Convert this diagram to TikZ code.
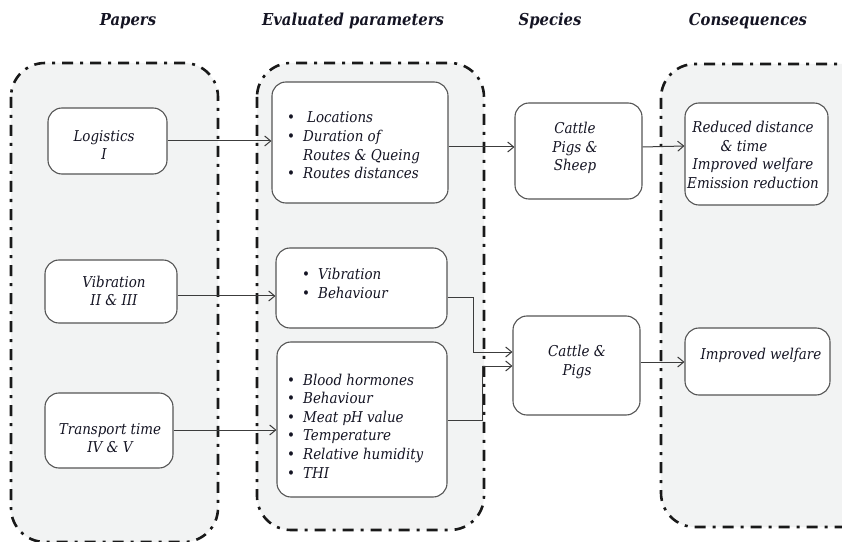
\documentclass[tikz,border=0pt]{standalone}
\usepackage{fontspec}
\setmainfont{DejaVuSerifCondensed}[Extension=.ttf, UprightFont=*, ItalicFont=*-Italic, BoldFont=*-Bold, BoldItalicFont=*-BoldItalic]
\usetikzlibrary{arrows.meta}
\definecolor{grpfill}{RGB}{242,243,243}
\definecolor{grpline}{RGB}{25,25,25}
\definecolor{boxline}{RGB}{85,85,85}
\definecolor{conline}{RGB}{60,60,60}
\definecolor{txtcol}{RGB}{20,20,35}
\tikzset{
  grp/.style={draw=grpline, line width=2.6bp, fill=grpfill, rounded corners=34bp,
              dash pattern=on 11bp off 7bp on 3bp off 7bp},
  box/.style={draw=boxline, line width=1.1bp, fill=white, rounded corners=14bp, inner sep=0pt},
  txt/.style={font=\itshape\fontsize{15}{18.7}\selectfont, text=txtcol, align=center, inner sep=0pt},
  hdr/.style={font=\bfseries\itshape\fontsize{16.5}{18}\selectfont, text=txtcol, inner sep=0pt},
  conn/.style={draw=conline, line width=1bp, -{Straight Barb[length=6bp,width=10bp]}},
}
\newcommand{\bul}{\textbullet}
\begin{document}
\begin{tikzpicture}[x=1bp,y=-1bp]
\useasboundingbox (0,0) rectangle (842,542);
\clip (0,0) rectangle (842,542);

% headers
\node[hdr] (h1) at (128,21) {Papers};
\node[hdr] (h2) at (353,21) {Evaluated parameters};
\node[hdr] (h3) at (550,21) {Species};
\node[hdr] (h4) at (748,21) {Consequences};

% containers
\draw[grp] (11,63) rectangle (218,542);
\draw[grp] (257,63) rectangle (484,530);
\draw[grp] (661,64) rectangle (880,527);

% papers
\node[box, minimum width=119bp, minimum height=66bp] (log) at (107.5,141) {};
\node[txt] (logt) at (104,145) {Logistics\\I};
\node[box, minimum width=132bp, minimum height=63bp] (vib) at (111,291.5) {};
\node[txt] (vibt) at (114,291) {Vibration\\II \& III};
\node[box, minimum width=128bp, minimum height=75bp] (tra) at (109,430.5) {};
\node[txt] (trat) at (110,438) {Transport time\\IV \& V};

% evaluated parameters
\node[box, minimum width=176bp, minimum height=121bp] (loc) at (360,142.5) {};
\node[txt, anchor=base west] (loct) at (287,123) {\begin{tabular}[t]{@{}l@{\hspace{8bp}}l@{}}\bul & \hspace{4bp}Locations\\ \bul & Duration of\\ & Routes \& Queing\\ \bul & Routes distances\end{tabular}};
\node[box, minimum width=171bp, minimum height=80bp] (vp) at (361.5,288) {};
\node[txt, anchor=base west] (vpt) at (302,280) {\begin{tabular}[t]{@{}l@{\hspace{8bp}}l@{}}\bul & Vibration\\ \bul & Behaviour\end{tabular}};
\node[box, minimum width=170bp, minimum height=155bp] (blo) at (362,419.5) {};
\node[txt, anchor=base west] (blot) at (287,385) {\begin{tabular}[t]{@{}l@{\hspace{8bp}}l@{}}\bul & Blood hormones\\ \bul & Behaviour\\ \bul & Meat pH value\\ \bul & Temperature\\ \bul & Relative humidity\\ \bul & THI\end{tabular}};

% species
\node[box, minimum width=127bp, minimum height=96bp] (cps) at (578.5,151) {};
\node[txt] (cpst) at (575,148) {Cattle\\Pigs \&\\Sheep};
\node[box, minimum width=127bp, minimum height=99bp] (cp) at (576.5,365.5) {};
\node[txt] (cpt) at (577,362) {Cattle \&\\Pigs};

% consequences
\node[box, minimum width=143bp, minimum height=102bp] (red) at (756.5,154) {};
\node[txt] (redt) at (753,155) {Reduced distance\\\hspace{-18bp}\& time\\Improved welfare\\Emission reduction};
\node[box, minimum width=145bp, minimum height=67bp] (iw) at (757.5,361.5) {};
\node[txt] (iwt) at (761,355) {Improved welfare};

% connectors
\draw[conn] (log.east) -- (log.east -| loc.west);
\draw[conn] (loc.east |- 0,147) -- (cps.west |- 0,147);
\draw[conn] (cps.east |- 0,147) -- (red.west |- 0,146);
\draw[conn] (vib.east |- 0,296) -- (vp.west |- 0,296);
\draw[conn] (tra.east |- 0,430) -- (blo.west |- 0,430);
\draw[conn] (vp.east |- 0,298) -| (473,352) -- (cp.west |- 0,352);
\draw[conn] (blo.east |- 0,420) -| (482,366) -- (cp.west |- 0,366);
\draw[conn] (cp.east |- 0,362) -- (iw.west |- 0,362);
\end{tikzpicture}
\end{document}
